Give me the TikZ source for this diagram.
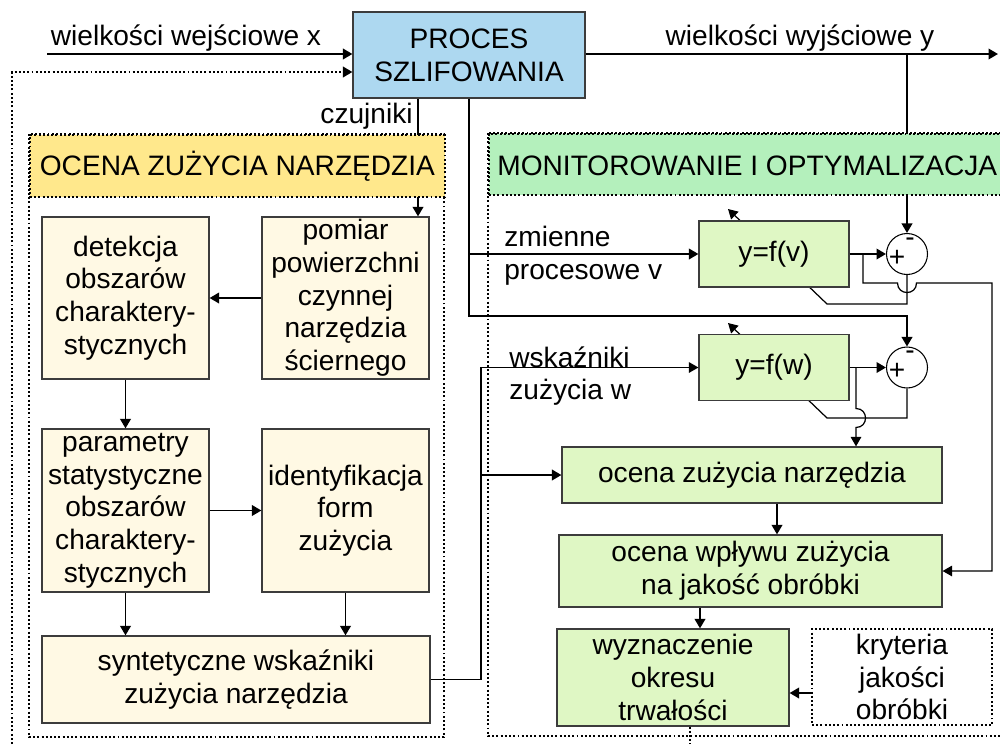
\documentclass[tikz,border=0pt]{standalone}
\usepackage{fontspec}
\setmainfont{Liberation Sans}
\usetikzlibrary{arrows.meta,backgrounds,positioning}

\definecolor{niebieski}{RGB}{173,216,240}
\definecolor{zolty}{RGB}{255,232,140}
\definecolor{zielony}{RGB}{180,240,188}
\definecolor{kremowy}{RGB}{255,249,228}
\definecolor{jasnozielony}{RGB}{223,247,196}
\definecolor{obrys}{RGB}{60,60,60}

\tikzset{>={Triangle[length=5.4pt,width=6pt]}}
\tikzset{
    every node/.style={font=\fontsize{16}{18.6}\selectfont},
    blok/.style={rectangle,draw=obrys,line width=0.7pt,inner sep=0pt,align=center},
    lewy/.style={blok,fill=kremowy},
    prawy/.style={blok,fill=jasnozielony},
    sumator/.style={circle,draw=black,fill=white,line width=0.6pt,minimum size=0.82cm,inner sep=0pt},
    znak/.style={inner sep=0pt},
    kropki/.style={line width=1.1pt,dash pattern=on 1.1pt off 1.3pt},
    naglowek/.style={rectangle,kropki,draw=black,inner sep=0pt,anchor=north west},
    linia/.style={line width=1.1pt},
    cienka/.style={line width=0.7pt},
}

\begin{document}
\begin{tikzpicture}[x=0.02cm,y=-0.02cm]
    \useasboundingbox (0,0) rectangle (1000,744);
    \clip (0,0) rectangle (1000,744);

    % ramki sekcji
    \draw[kropki] (29,134) rectangle (444,737);
    \draw[kropki] (488,133) rectangle (1010,736);
    \node[naglowek,fill=zolty,minimum width=8.3cm,minimum height=1.24cm] (naglowekL) at (29,134) {OCENA ZUŻYCIA NARZĘDZIA};
    \node[naglowek,fill=zielony,minimum width=10.44cm,minimum height=1.22cm] (naglowekP) at (488,133) {};
    \node[anchor=base west,inner sep=0pt] (tytulP) at (497,175) {MONITOROWANIE I OPTYMALIZACJA};

    % proces
    \node[blok,fill=niebieski,minimum width=4.64cm,minimum height=1.72cm] (proc) at (469,55) {PROCES\\SZLIFOWANIA};

    % lewa strona
    \node[lewy,minimum width=3.34cm,minimum height=3.24cm] (detekcja) at (125.5,298) {detekcja\\obszarów\\charaktery-\\stycznych};
    \node[lewy,minimum width=3.34cm,minimum height=3.24cm] (pomiar) at (345.5,298) {pomiar\\powierzchni\\czynnej\\narzędzia\\ściernego};
    \node[lewy,minimum width=3.34cm,minimum height=3.26cm] (parametry) at (125.5,510.5) {parametry\\statystyczne\\obszarów\\charaktery-\\stycznych};
    \node[lewy,minimum width=3.34cm,minimum height=3.26cm] (identyf) at (345.5,510.5) {identyfikacja\\form\\zużycia};
    \node[lewy,minimum width=7.76cm,minimum height=1.74cm] (synt) at (236,679.5) {syntetyczne wskaźniki\\zużycia narzędzia};

    % prawa strona
    \node[prawy,minimum width=3cm,minimum height=1.32cm] (fv) at (774,254) {y=f(v)};
    \node[prawy,minimum width=3cm,minimum height=1.32cm] (fw) at (774,367.5) {y=f(w)};
    \node[sumator] (s1) at (907,254) {};
    \node[sumator] (s2) at (907,367.5) {};
    \node[znak] (plus1) at (897,258) {+};
    \node[znak] (minus1) at (910,242) {-};
    \node[znak] (plus2) at (897,371.5) {+};
    \node[znak] (minus2) at (910,355.5) {-};
    \node[prawy,minimum width=7.6cm,minimum height=1.12cm] (ocenaZ) at (752,475) {ocena zużycia narzędzia};
    \node[prawy,minimum width=7.66cm,minimum height=1.44cm] (ocenaW) at (750.5,571) {ocena wpływu zużycia\\na jakość obróbki};
    \node[prawy,minimum width=4.64cm,minimum height=1.94cm] (wyzn) at (673,677.5) {wyznaczenie\\okresu\\trwałości};
    \node[blok,kropki,draw=black,minimum width=3.6cm,minimum height=1.92cm] (kryt) at (902,677) {kryteria\\jakości\\obróbki};

    % etykiety
    \node[anchor=base] (we) at (186,45) {wielkości wejściowe x};
    \node[anchor=base] (wy) at (800,45) {wielkości wyjściowe y};
    \node[anchor=base east,inner sep=0pt] (czujniki) at (413,123) {czujniki};
    \node[anchor=west,align=left,inner sep=0pt] (zmienne) at (504,256) {zmienne\\procesowe v};
    \node[anchor=west,align=left,inner sep=0pt] (wskazniki) at (509,376) {wskaźniki\\zużycia w};

    % punkty pomocnicze
    \coordinate (wejscie) at (47,54);
    \coordinate (wyjscie) at (998,54);
    \coordinate (zwrot) at (12,72);
    \coordinate (powrot) at (12,744);
    \coordinate (dol) at (690,744);
    \coordinate (czujnik) at (418,0);
    \coordinate (rozg) at (469,316);
    \coordinate (pion) at (481,0);
    \coordinate (odczep1) at (863,254);
    \coordinate (odczep2) at (856,367.5);
    \coordinate (kolumna1) at (777,0);
    \coordinate (kolumna2) at (700,0);
    \coordinate (poziom) at (0,693);

    % wejscia i wyjscia procesu
    \draw[->,linia] (wejscie) -- (wejscie -| proc.west);
    \draw[->,linia] (proc.east |- wyjscie) -- (wyjscie);
    \draw[->,kropki] (powrot) -- (zwrot) -- (zwrot -| proc.west);
    \draw[kropki] (dol |- wyzn.south) -- (dol);

    \begin{pgfonlayer}{background}
        \draw[->,linia] (proc.south -| czujnik) -- (pomiar.north -| czujnik);
        \draw[->,linia] (s1.north |- wyjscie) -- (s1.north);
        \draw[->,cienka] (s1.south) -- (907,304) -- (827,304) -- (728,209);
        \draw[->,cienka] (s2.south) -- (907,418) -- (827,418) -- (728,323);
    \end{pgfonlayer}

    % modele
    \draw[->,linia] (proc.south) -- (rozg) -| (s2.north);
    \draw[->,linia] (proc.south |- fv.west) -- (fv.west);
    \draw[->,linia] (fv.east) -- (s1.west);
    \draw[->,linia] (fw.east) -- (s2.west);
    \draw[->,cienka] (odczep1) -- (863,283) -- (897.5,283)
        .. controls (897.5,295.7) and (916.5,295.7) .. (916.5,283)
        -- (992,283) |- (ocenaW.east);
    \draw[->,cienka] (odczep2) -- (856,408.5)
        .. controls (868.7,408.5) and (868.7,427.5) .. (856,427.5)
        -- (ocenaZ.north -| odczep2);

    % ocena zuzycia
    \draw[->,linia] (pomiar) -- (detekcja);
    \draw[->,linia] (detekcja) -- (parametry);
    \draw[->,linia] (parametry) -- (identyf);
    \draw[->,linia] (parametry) -- (parametry |- synt.north);
    \draw[->,linia] (identyf) -- (identyf |- synt.north);
    \draw[->,cienka] (synt.east) -| (pion |- fw.west) -- (fw.west);
    \draw[->,linia] (pion |- ocenaZ.west) -- (ocenaZ.west);

    % optymalizacja
    \draw[->,linia] (ocenaZ.south -| kolumna1) -- (ocenaW.north -| kolumna1);
    \draw[->,linia] (ocenaW.south -| kolumna2) -- (wyzn.north -| kolumna2);
    \draw[->,linia] (kryt.west |- poziom) -- (wyzn.east |- poziom);
\end{tikzpicture}
\end{document}
